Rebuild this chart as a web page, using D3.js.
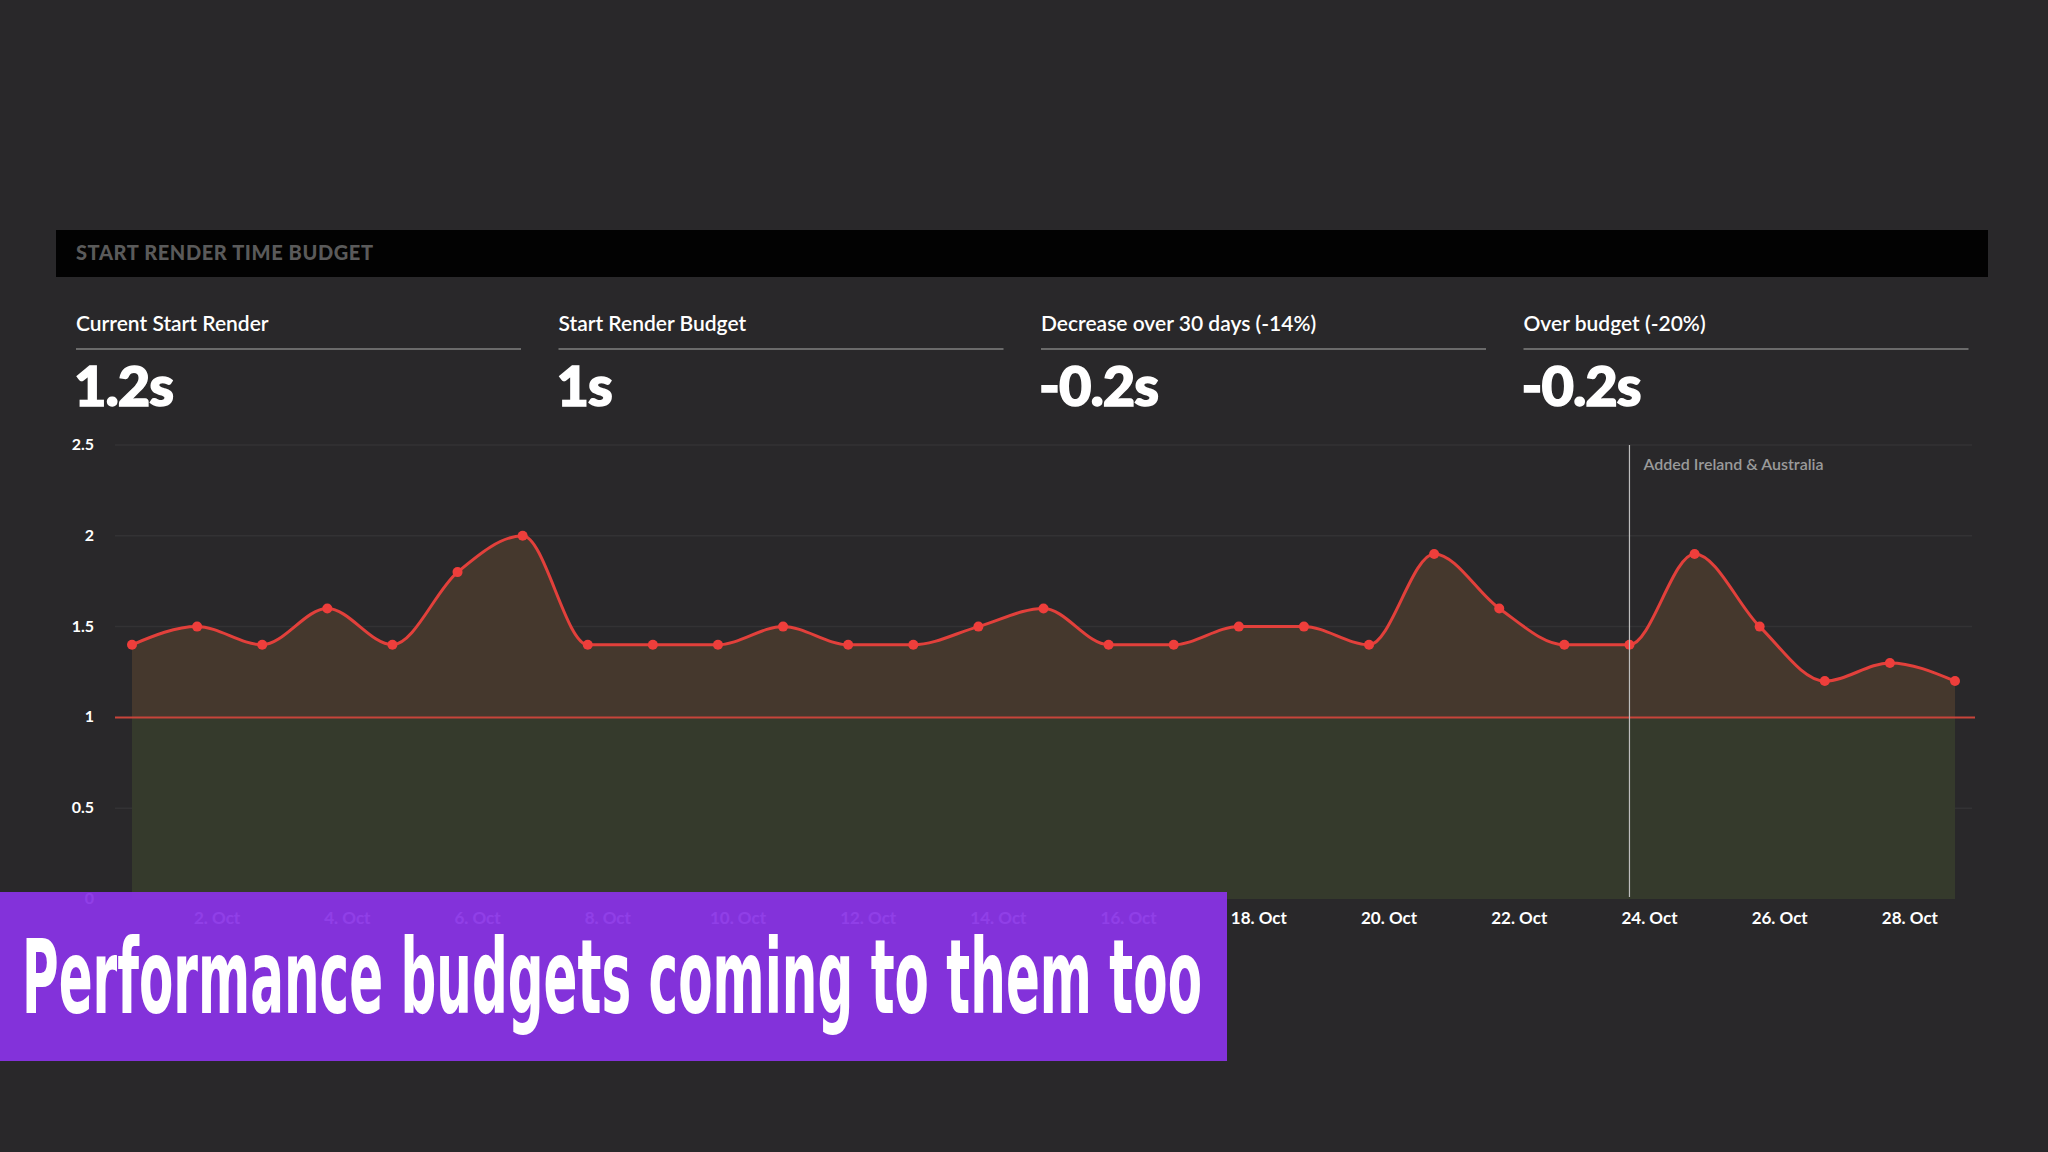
<!DOCTYPE html>
<html><head><meta charset="utf-8">
<script src="https://cdn.jsdelivr.net/npm/d3@7"></script>
<style>
body{margin:0;background:#29282a;}
svg{display:block;font-family:Lato,"Open Sans",sans-serif;}
</style></head><body>
<script>
// data
var days = d3.range(1, 30);
var values = [1.4,1.5,1.4,1.6,1.4,1.8,2.0,1.4,1.4,1.4,1.5,1.4,1.4,1.5,1.6,1.4,1.4,1.5,1.5,1.4,1.9,1.6,1.4,1.4,1.9,1.5,1.2,1.3,1.2];
var budget = 1;
var yTicks = [0, 0.5, 1, 1.5, 2, 2.5];
var xTicks = [2,4,6,8,10,12,14,16,18,20,22,24,26,28];
var statLabels = ["Current Start Render", "Start Render Budget", "Decrease over 30 days (-14%)", "Over budget (-20%)"];
var statValues = ["1.2s", "1s", "-0.2s", "-0.2s"];
var markerDay = 24, markerText = "Added Ireland & Australia";

var W = 2048, H = 1152;
var svg = d3.select("body").append("svg").attr("width", W).attr("height", H);
svg.append("rect").attr("width", W).attr("height", H).attr("fill", "#29282a");

// header
svg.append("rect").attr("x", 56).attr("y", 230).attr("width", 1932).attr("height", 47).attr("fill", "#020202");
svg.append("text").attr("x", 76).attr("y", 260).attr("fill", "#5a5a5a")
  .style("font-size", "20px").style("font-weight", "900").style("letter-spacing", "0.6px")
  .text("START RENDER TIME BUDGET");

// stats
statLabels.forEach(function(l, i) {
  var x = 76 + i * 482.5;
  svg.append("text").attr("x", x).attr("y", 331).attr("fill", "#fff")
    .style("font-size", "21px").style("font-weight", "600").text(l);
  svg.append("line").attr("x1", x).attr("x2", x + 445).attr("y1", 349).attr("y2", 349)
    .attr("stroke", "#6a6a6a").attr("stroke-width", 2);
  svg.append("text").attr("x", x - 2).attr("y", 406).attr("fill", "#fff")
    .attr("stroke", "#fff").attr("stroke-width", 1.5)
    .style("font-size", "56px").style("font-weight", "900").style("letter-spacing", "-1px")
    .text(statValues[i]);
});

// scales
var x = d3.scaleLinear().domain([1, 29]).range([132, 1955]);
var y = d3.scaleLinear().domain([0, 2.5]).range([899, 445]);

// grid
svg.append("g").selectAll("line").data(yTicks.filter(function(d){return d>0 && d!==budget;})).enter().append("line")
  .attr("x1", 115).attr("x2", 1972).attr("y1", function(d){return y(d);}).attr("y2", function(d){return y(d);})
  .attr("stroke", "#333234").attr("stroke-width", 1.5);

// areas
svg.append("rect").attr("x", x(1)).attr("width", x(29) - x(1)).attr("y", y(budget)).attr("height", y(0) - y(budget))
  .attr("fill", "#353a2c");
var area = d3.area().curve(d3.curveMonotoneX)
  .x(function(d, i){return x(days[i]);}).y0(y(budget)).y1(function(d){return y(d);});
svg.append("path").datum(values).attr("d", area).attr("fill", "#45382d");

svg.append("line").attr("x1", 115).attr("x2", 1975).attr("y1", y(budget)).attr("y2", y(budget))
  .attr("stroke", "#c8443a").attr("stroke-width", 2);

var line = d3.line().curve(d3.curveMonotoneX)
  .x(function(d, i){return x(days[i]);}).y(function(d){return y(d);});
svg.append("path").datum(values).attr("d", line).attr("fill", "none").attr("stroke", "#e2403b").attr("stroke-width", 3);
svg.append("g").selectAll("circle").data(values).enter().append("circle")
  .attr("cx", function(d, i){return x(days[i]);}).attr("cy", function(d){return y(d);})
  .attr("r", 5).attr("fill", "#ee3e3b");

// marker
svg.append("line").attr("x1", x(markerDay)).attr("x2", x(markerDay)).attr("y1", 445).attr("y2", 897)
  .attr("stroke", "#bdbdbd").attr("stroke-width", 1.2);
svg.append("text").attr("x", x(markerDay) + 14).attr("y", 470).attr("fill", "#9a9a9a")
  .style("font-size", "16px").style("font-weight", "600").text(markerText);

// axes
svg.append("g").selectAll("text").data(yTicks).enter().append("text")
  .attr("x", 94).attr("y", function(d){return y(d) + 5;}).attr("text-anchor", "end")
  .attr("fill", "#fff").style("font-size", "16px").style("font-weight", "700")
  .text(function(d){return d;});
svg.append("g").selectAll("text").data(xTicks).enter().append("text")
  .attr("x", function(d){return x(d) + 20;}).attr("y", 924).attr("text-anchor", "middle")
  .attr("fill", "#fff").style("font-size", "17px").style("font-weight", "700")
  .text(function(d){return d + ". Oct";});

// caption (slightly translucent, ticks show faintly through as in the slide)
svg.append("rect").attr("x", 0).attr("y", 892).attr("width", 1227).attr("height", 169)
  .attr("fill", "#8933e6").attr("fill-opacity", 0.94);
svg.append("text").attr("x", 22).attr("y", 1013).attr("fill", "#fff")
  .attr("textLength", 1180).attr("lengthAdjust", "spacingAndGlyphs")
  .style("font-family", "'DejaVu Sans Condensed','Roboto',sans-serif").style("font-size", "104px").style("font-weight", "700")
  .text("Performance budgets coming to them too");
</script>
</body></html>
